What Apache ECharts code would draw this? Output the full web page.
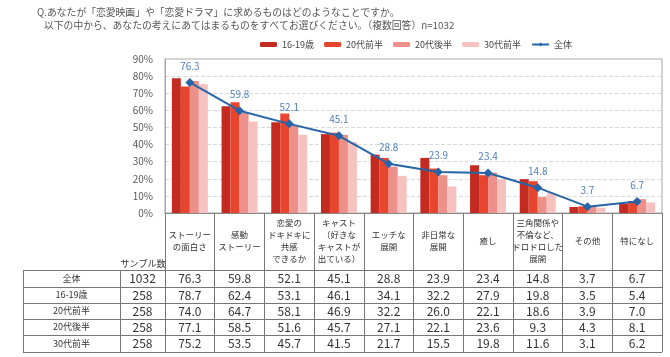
<!DOCTYPE html>
<html><head><meta charset="utf-8">
<script src="https://cdn.jsdelivr.net/npm/echarts@6/dist/echarts.min.js"></script>
<style>html,body{margin:0;padding:0;background:#fff}#c{width:670px;height:357px}</style>
</head><body><div id="c"></div>
<script>
var categories = ["ストーリー\nの面白さ","感動\nストーリー","恋愛の\nドキドキに\n共感\nできるか","キャスト\n（好きな\nキャストが\n出ている）","エッチな\n展開","非日常な\n展開","癒し","三角関係や\n不倫など、\nドロドロした\n展開","その他","特になし"];
var rowLabels = ["全体","16-19歳","20代前半","20代後半","30代前半"];
var sampleN = [1032, 258, 258, 258, 258];
var total   = [76.3, 59.8, 52.1, 45.1, 28.8, 23.9, 23.4, 14.8, 3.7, 6.7];
var age1619 = [78.7, 62.4, 53.1, 46.1, 34.1, 32.2, 27.9, 19.8, 3.5, 5.4];
var age20a  = [74.0, 64.7, 58.1, 46.9, 32.2, 26.0, 22.1, 18.6, 3.9, 7.0];
var age20b  = [77.1, 58.5, 51.6, 45.7, 27.1, 22.1, 23.6, 9.3, 4.3, 8.1];
var age30a  = [75.2, 53.5, 45.7, 41.5, 21.7, 15.5, 19.8, 11.6, 3.1, 6.2];
var yTicks = [0, 10, 20, 30, 40, 50, 60, 70, 80, 90];

var FONT = "'Noto Sans CJK JP', sans-serif";
var rows = [total, age1619, age20a, age20b, age30a];
var rowLines = [270, 287, 303, 319, 335, 352];
var axisY = 213, tableL = 23, col1 = 120, plotL = 165, plotR = 662;

var xAxes = [{
  type: 'category', data: categories, gridIndex: 0,
  axisLine: {lineStyle: {color: '#888'}},
  axisTick: {show: true, length: rowLines[5] - axisY, interval: 0, lineStyle: {color: '#777'}},
  axisLabel: {interval: 0, margin: 28, verticalAlign: 'middle', fontSize: 8.5, lineHeight: 12, color: '#333', fontFamily: FONT}
}];
rows.forEach(function (r, k) {
  var center = (rowLines[k] + rowLines[k + 1]) / 2;
  xAxes.push({
    type: 'category', data: categories, gridIndex: 0, position: 'bottom', offset: center - axisY,
    axisLine: {show: false}, axisTick: {show: false}, splitLine: {show: false},
    axisLabel: {interval: 0, margin: 0, verticalAlign: 'middle', fontSize: 12, color: '#333', fontFamily: FONT,
      formatter: function (v, i) { return r[i].toFixed(1); }}
  });
});

var graphics = [];
rowLines.forEach(function (y) {
  graphics.push({type: 'line', shape: {x1: tableL, y1: y + 0.5, x2: plotR, y2: y + 0.5}, style: {stroke: '#777', lineWidth: 1}});
});
[tableL, col1].forEach(function (x) {
  graphics.push({type: 'line', shape: {x1: x + 0.5, y1: rowLines[0], x2: x + 0.5, y2: rowLines[5]}, style: {stroke: '#777', lineWidth: 1}});
});
rowLabels.forEach(function (t, k) {
  var c = (rowLines[k] + rowLines[k + 1]) / 2;
  graphics.push({type: 'text', x: (tableL + col1) / 2, y: c, style: {text: t, fontSize: 9, fill: '#333', fontFamily: FONT, textAlign: 'center', textVerticalAlign: 'middle'}});
  graphics.push({type: 'text', x: (col1 + plotL) / 2, y: c, style: {text: String(sampleN[k]), fontSize: 12, fill: '#333', fontFamily: FONT, textAlign: 'center', textVerticalAlign: 'middle'}});
});
graphics.push({type: 'text', x: 143, y: 264, style: {text: 'サンプル数', fontSize: 9, fill: '#333', fontFamily: FONT, textAlign: 'center', textVerticalAlign: 'middle'}});
graphics.push({type: 'text', x: 37, y: 12, style: {text: 'Q.あなたが「恋愛映画」や「恋愛ドラマ」に求めるものはどのようなことですか。', fontSize: 9.8, fill: '#555', fontFamily: FONT, textVerticalAlign: 'middle'}});
graphics.push({type: 'text', x: 44, y: 25, style: {text: '以下の中から、あなたの考えにあてはまるものをすべてお選びください。（複数回答）n=1032', fontSize: 9.8, fill: '#555', fontFamily: FONT, textVerticalAlign: 'middle'}});

function barSeries(name, data, color) {
  return {name: name, type: 'bar', data: data, barWidth: 9, barGap: '0%', itemStyle: {color: color}};
}

var chart = echarts.init(document.getElementById('c'));
chart.setOption({
  animation: false,
  textStyle: {fontFamily: FONT},
  legend: {
    left: 255, top: 35, itemWidth: 17, itemHeight: 5, itemGap: 10,
    textStyle: {fontSize: 9, color: '#444', fontFamily: FONT},
    data: ['16-19歳', '20代前半', '20代後半', '30代前半', '全体']
  },
  grid: {left: plotL, right: 670 - plotR, top: 59, bottom: 357 - axisY, show: true, borderColor: '#a6a6a6', borderWidth: 1, containLabel: false},
  xAxis: xAxes,
  yAxis: {
    type: 'value', min: yTicks[0], max: yTicks[yTicks.length - 1], interval: 10,
    axisLine: {show: true, lineStyle: {color: '#a6a6a6'}}, axisTick: {show: false},
    axisLabel: {formatter: '{value}%', fontSize: 10, color: '#595959', margin: 12, fontFamily: FONT},
    splitLine: {lineStyle: {type: 'dashed', color: '#d9d9d9'}}
  },
  graphic: graphics,
  series: [
    barSeries('16-19歳', age1619, '#C42B20'),
    barSeries('20代前半', age20a, '#E8452E'),
    barSeries('20代後半', age20b, '#EE908A'),
    barSeries('30代前半', age30a, '#F6C2BF'),
    {name: '全体', type: 'line', data: total, symbol: 'diamond', symbolSize: 9, z: 5,
     lineStyle: {color: '#2565A8', width: 2}, itemStyle: {color: '#2565A8'},
     label: {show: true, position: 'top', distance: 7, fontSize: 10, color: '#4F7FB8', fontFamily: FONT,
       formatter: function (p) { return p.value.toFixed(1); }}}
  ]
});
</script></body></html>
